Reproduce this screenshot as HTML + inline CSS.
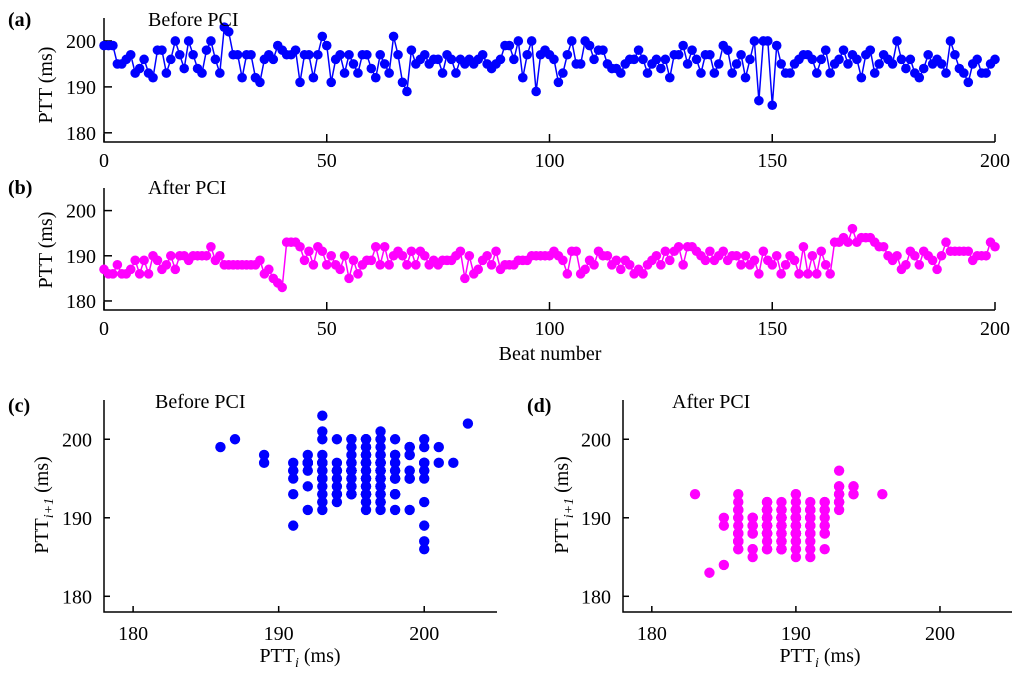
<!DOCTYPE html>
<html><head><meta charset="utf-8">
<style>
html,body{margin:0;padding:0;background:#fff;}
svg{display:block;font-family:"Liberation Serif",serif;}
</style></head>
<body>
<svg id="fig" width="1024" height="679" viewBox="0 0 1024 679" xmlns="http://www.w3.org/2000/svg"></svg>
<script>
const beforePTT=[199,199,199,195,195,196,197,193,194,196,193,192,198,198,193,196,200,197,194,200,197,194,193,198,200,196,193,203,202,197,197,192,197,197,192,191,196,197,196,199,198,197,197,198,191,197,197,192,197,201,199,191,196,197,193,197,195,193,197,197,194,192,197,195,193,201,197,191,189,198,195,196,197,195,196,196,193,197,196,193,196,195,196,195,196,197,195,194,195,196,199,199,196,200,192,197,200,189,197,198,197,196,191,193,197,200,195,195,200,199,196,198,198,195,194,194,193,195,196,196,198,196,193,195,196,194,196,192,197,197,199,195,198,196,193,197,197,193,195,199,198,193,195,197,192,196,200,187,200,200,186,199,195,193,193,195,196,197,197,196,193,196,198,193,195,196,198,195,197,196,192,197,198,193,195,197,196,195,200,196,194,196,193,192,194,197,195,196,195,193,200,197,194,193,191,195,196,193,193,195,196];
const afterPTT=[187,186,186,188,186,186,187,189,186,189,186,190,189,187,188,190,187,190,190,189,190,190,190,190,192,189,190,188,188,188,188,188,188,188,188,189,186,187,185,184,183,193,193,193,192,189,191,188,192,191,188,190,188,187,190,185,189,186,188,189,189,192,188,192,188,190,191,190,188,191,188,191,190,188,189,188,189,189,189,190,191,185,190,186,187,189,190,188,191,187,188,188,188,189,189,189,190,190,190,190,190,191,190,189,186,191,191,186,187,189,188,191,190,190,188,189,187,189,188,186,187,186,188,189,190,188,191,189,191,192,188,192,192,191,190,189,191,189,190,191,189,190,190,188,190,188,189,186,191,189,188,190,186,188,190,189,186,192,186,190,186,191,188,186,193,193,194,193,196,193,194,194,194,193,192,192,190,189,190,187,188,191,190,188,191,190,189,187,190,193,191,191,191,191,191,189,190,190,190,193,192];
const beatTicks=[0,50,100,150,200];
const pttTicks=[180,190,200];

const NS="http://www.w3.org/2000/svg";
const svg=document.getElementById('fig');
function mk(tag,attrs,parent){const e=document.createElementNS(NS,tag);for(const k in attrs)e.setAttribute(k,attrs[k]);(parent||svg).appendChild(e);return e;}
function txt(s,x,y,opt,parent){const t=mk('text',Object.assign({x:x,y:y,'font-size':20,fill:'#000'},opt||{}),parent);t.textContent=s;return t;}

function linePanel(data,color,top,bottom,name){
  const g=mk('g',{});
  
  
  const x0=104,x1=995;
  const X=i=>x0+(i/200)*(x1-x0);
  const Y=v=>bottom-(v-178)/(205-178)*(bottom-top);
  const ax=mk('path',{d:`M${x0} ${top}V${bottom}H${x1}`,stroke:'#000','stroke-width':1.5,fill:'none'},g);
  
  
  beatTicks.forEach(t=>{mk('line',{x1:X(t),x2:X(t),y1:bottom,y2:bottom-8,stroke:'#000','stroke-width':1.5},g);
    const l=txt(String(t),X(t),bottom+25,{'text-anchor':'middle'},g);
    
    });
  pttTicks.forEach(t=>{mk('line',{x1:x0,x2:x0+8,y1:Y(t),y2:Y(t),stroke:'#000','stroke-width':1.5},g);
    const l=txt(String(t),x0-8,Y(t)+7,{'text-anchor':'end'},g);
    
    });
  const n=Math.min(data.length,201);
  let d='';for(let i=0;i<n;i++)d+=(i?'L':'M')+X(i).toFixed(1)+' '+Y(data[i]).toFixed(1);
  const p=mk('path',{d:d,stroke:color,'stroke-width':1.5,fill:'none'},g);
  
  
  for(let i=0;i<n;i++){const c=mk('circle',{cx:X(i),cy:Y(data[i]),r:4.8,fill:color},g);
    
    }
}
function scatterPanel(data,color,x0,x1,name){
  const top=400,bottom=612;
  const g=mk('g',{});
  
  
  const X=v=>x0+(v-178)/(205-178)*(x1-x0);
  const Y=v=>bottom-(v-178)/(205-178)*(bottom-top);
  const ax=mk('path',{d:`M${x0} ${top}V${bottom}H${x1}`,stroke:'#000','stroke-width':1.5,fill:'none'},g);
  
  
  pttTicks.forEach(t=>{mk('line',{x1:X(t),x2:X(t),y1:bottom,y2:bottom-6,stroke:'#000','stroke-width':1.5},g);
    const l=txt(String(t),X(t),bottom+28,{'text-anchor':'middle'},g);
    
    
    mk('line',{x1:x0,x2:x0+6,y1:Y(t),y2:Y(t),stroke:'#000','stroke-width':1.5},g);
    const m=txt(String(t),x0-12,Y(t)+7,{'text-anchor':'end'},g);
    
    });
  for(let i=0;i+1<Math.min(data.length,201);i++){const c=mk('circle',{cx:X(data[i]),cy:Y(data[i+1]),r:5.2,fill:color},g);
    
    }
}
linePanel(beforePTT,'#0000ff',18,142,'panel-a-before');
linePanel(afterPTT,'#ff00ff',188,310,'panel-b-after');
scatterPanel(beforePTT,'#0000ff',104,497,'panel-c-before-scatter');
scatterPanel(afterPTT,'#ff00ff',623,1012,'panel-d-after-scatter');

function lab(s,x,y,name,opt){const t=txt(s,x,y,opt);return t;}
lab('(a)',8,26,'panel-a-label',{'font-weight':'bold'});
lab('Before PCI',148,26,'panel-a-title');
lab('(b)',8,194,'panel-b-label',{'font-weight':'bold'});
lab('After PCI',148,194,'panel-b-title');
lab('(c)',8,412,'panel-c-label',{'font-weight':'bold'});
lab('Before PCI',155,408,'panel-c-title');
lab('(d)',527,412,'panel-d-label',{'font-weight':'bold'});
lab('After PCI',672,408,'panel-d-title');
lab('Beat number',550,360,'x-axis-title',{'text-anchor':'middle'});
lab('PTT (ms)',52,85,'y-axis-title-a',{'text-anchor':'middle',transform:'rotate(-90 52 85)'});
lab('PTT (ms)',52,250,'y-axis-title-b',{'text-anchor':'middle',transform:'rotate(-90 52 250)'});
function pttI(x,y,rot,sub,name){
  const t=mk('text',{x:x,y:y,'font-size':20,'text-anchor':'middle',transform:rot?`rotate(-90 ${x} ${y})`:''});
  
  
  t.appendChild(document.createTextNode('PTT'));
  const s=mk('tspan',{'font-size':14,'font-style':'italic',dy:5},t);s.textContent=sub;
  const r=mk('tspan',{dy:-5},t);r.textContent=' (ms)';
}
pttI(300,662,false,'i','x-axis-title-c');
pttI(820,662,false,'i','x-axis-title-d');
pttI(48,505,true,'i+1','y-axis-title-c');
pttI(568,505,true,'i+1','y-axis-title-d');
</script>
</body></html>
